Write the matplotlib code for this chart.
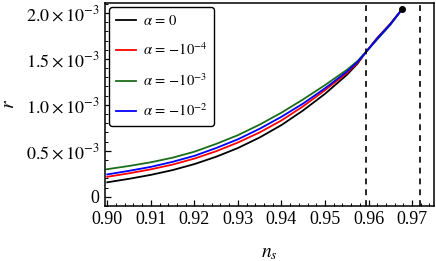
import matplotlib
matplotlib.use("Agg")
import matplotlib.pyplot as plt
from matplotlib.ticker import FuncFormatter, MultipleLocator

plt.rcParams["font.family"] = ["Liberation Serif", "DejaVu Serif"]
plt.rcParams["mathtext.fontset"] = "stix"

# n_s sampling and r values (units of 1e-3)
ns = [0.900, 0.905, 0.910, 0.915, 0.920, 0.925, 0.930, 0.935, 0.940,
      0.945, 0.950, 0.955, 0.9575, 0.9595, 0.962, 0.965, 0.9677]
r_a0 = [0.157, 0.195, 0.238, 0.290, 0.355, 0.435, 0.530, 0.645, 0.780,
        0.940, 1.120, 1.325, 1.450, 1.580, 1.728, 1.882, 2.040]
r_a4 = [0.217, 0.255, 0.298, 0.350, 0.415, 0.495, 0.590, 0.700, 0.830,
        0.985, 1.160, 1.345, 1.460, 1.580, 1.724, 1.879, 2.040]
r_a3 = [0.300, 0.335, 0.375, 0.425, 0.490, 0.575, 0.670, 0.785, 0.915,
        1.060, 1.215, 1.380, 1.478, 1.580, 1.712, 1.870, 2.040]
r_a2 = [0.243, 0.282, 0.325, 0.380, 0.445, 0.530, 0.625, 0.740, 0.870,
        1.015, 1.180, 1.360, 1.468, 1.580, 1.720, 1.876, 2.040]

series = [
    (r_a0, "black", r"$\alpha\,=\,0$"),
    (r_a4, "red", r"$\alpha\,=\,{-}10^{-4}$"),
    (r_a3, "#1a6e1a", r"$\alpha\,=\,{-}10^{-3}$"),
    (r_a2, "blue", r"$\alpha\,=\,{-}10^{-2}$"),
]
ns_bounds = [0.9595, 0.9718]
end_point = (0.9677, 2.04)

fig = plt.figure(figsize=(4.36, 2.61), dpi=100)
ax = fig.add_axes([0.241, 0.211, 0.754, 0.778])

for r, c, lab in series:
    ax.plot(ns, [v * 1e-3 for v in r], color=c, lw=1.3, label=lab)
for x in ns_bounds:
    ax.axvline(x, color="black", lw=1.2, ls=(0, (3.5, 3)))
ax.plot(end_point[0], end_point[1] * 1e-3, "o", color="black", ms=4)

ax.set_xlim(0.8995, 0.975)
ax.set_ylim(-0.1e-3, 2.11e-3)
ax.xaxis.set_major_locator(MultipleLocator(0.01))
ax.xaxis.set_minor_locator(MultipleLocator(0.002))
ax.yaxis.set_major_locator(MultipleLocator(0.5e-3))
ax.yaxis.set_minor_locator(MultipleLocator(0.1e-3))


def yfmt(v, pos):
    if abs(v) < 1e-9:
        return "0"
    return r"$%.1f\times10^{-3}$" % (v * 1e3)


ax.yaxis.set_major_formatter(FuncFormatter(yfmt))
ax.xaxis.set_major_formatter(FuncFormatter(lambda v, p: "%.2f" % v))
ax.tick_params(which="both", direction="in", labelsize=13, pad=4)
ax.tick_params(which="major", length=4, width=0.9)
ax.tick_params(which="minor", length=2, width=0.7)
for s in ax.spines.values():
    s.set_linewidth(1.1)

ax.set_xlabel(r"$n_s$", fontsize=14, labelpad=12)
ax.set_ylabel(r"$r$", fontsize=14, labelpad=6)

leg = ax.legend(loc="upper left", fontsize=10.5, handlelength=1.4,
                labelspacing=0.95, borderpad=0.45, handletextpad=0.45,
                fancybox=True, framealpha=1, edgecolor="black",
                bbox_to_anchor=(0.0, 1.0), borderaxespad=0.3)
leg.get_frame().set_linewidth(1.0)

fig.savefig("out.png", dpi=100, facecolor="white")
